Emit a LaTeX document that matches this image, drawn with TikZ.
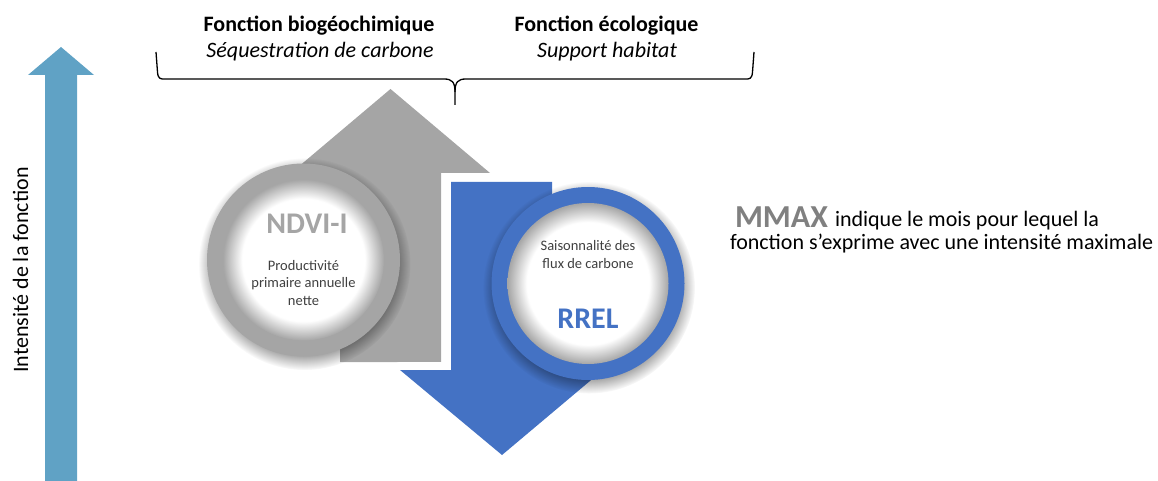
\documentclass[tikz,border=0pt]{standalone}
\usepackage{fontspec}
\setmainfont{Carlito}
\usepackage{tikz}
\usetikzlibrary{positioning}
\usetikzlibrary{calc}
\usetikzlibrary{fadings}

\definecolor{axisblue}{RGB}{96,162,197}
\definecolor{fngray}{RGB}{165,165,165}
\definecolor{fnblue}{RGB}{68,114,196}
\definecolor{textgray}{RGB}{64,64,64}
\definecolor{mmaxgray}{RGB}{128,128,128}

\pgfdeclareradialshading{holeshade}{\pgfpointorigin}{color(0bp)=(white); color(19bp)=(white); color(25bp)=(black!35); color(50bp)=(black!35)}

\begin{document}
\begin{tikzpicture}[x=1pt, y=-1pt, every node/.style={inner sep=0pt, outer sep=0pt},
  ringdisc/.style={circle, minimum size=193pt, fill=#1},
  holedisc/.style={circle, minimum size=161pt, shade, shading=holeshade},
  ringshadow/.style={black, fill opacity=0.5, path fading=circle with fuzzy edge 20 percent},
  headline/.style={anchor=base, font=\fontsize{22}{26}\selectfont\bfseries},
  subline/.style={anchor=base, font=\fontsize{22}{26}\selectfont\itshape},
  bodytext/.style={anchor=base west, font=\fontsize{22}{26}\selectfont},
  circtext/.style={align=center, text=textgray, font=\fontsize{14.5}{17.5}\selectfont},
  circtitle/.style={anchor=base, font=\fontsize{30}{36}\selectfont\bfseries}]

  \useasboundingbox (0,0) rectangle (1158,481);

  % intensity axis
  \fill[axisblue] (45,481) -- (45,75) -- (28,75) -- (61,47) -- (94,75) -- (77,75) -- (77,481) -- cycle;
  \node[bodytext, anchor=base, rotate=90] (axislabel) at (28,270) {Intensité de la fonction};

  % the two functions
  \node[headline] (biotitle) at (319,31.5) {Fonction biogéochimique};
  \node[subline] (biosub) at (320,58) {Séquestration de carbone};
  \node[headline] (ecotitle) at (606.5,31.5) {Fonction écologique};
  \node[subline] (ecosub) at (607,58) {Support habitat};

  \coordinate (braceL) at (156,52);
  \coordinate (braceR) at (754,52);
  \coordinate (braceMid) at (455,92);
  \coordinate (braceTip) at (455,105);
  \draw[line width=1.3pt] (braceL) -- ++(1.5,20) .. controls +(0.5,7) and +(-4,0) .. ++(7,7)
    -- (444,79) .. controls (452,79) and (455,82) .. (braceMid) -- (braceTip);
  \draw[line width=1.3pt] (braceR) -- ++(-1.5,20) .. controls +(-0.5,7) and +(4,0) .. ++(-7,7)
    -- (466,79) .. controls (458,79) and (455,82) .. (braceMid);

  % gray arrow up, blue arrow down
  \fill[fngray] (340,362) -- (340,173) -- (291,173) -- (390.5,89) -- (490,173) -- (441,173) -- (441,362) -- cycle;
  \fill[fnblue, preaction={draw=white, line width=16pt, line join=round}]
    (451,182) -- (552,182) -- (552,370) -- (603,370) -- (502,455) -- (400,370) -- (451,370) -- cycle;

  % NDVI-I circle
  \coordinate (ndvipos) at (303.5,260);
  \fill[ringshadow] ($(ndvipos)+(1,4)$) circle (106);
  \node[ringdisc=fngray] (ndvi) at (ndvipos) {};
  \node[holedisc] (ndvihole) at (ndvi) {};
  \node[circtitle, text=fngray] (ndvititle) at (307,233) {NDVI-I};
  \node[circtext] (ndvitext) at (303.5,283) {Productivité\\primaire annuelle\\nette};

  % RREL circle
  \coordinate (rrelpos) at (588,283.5);
  \fill[ringshadow] ($(rrelpos)+(1,4)$) circle (106);
  \node[ringdisc=fnblue] (rrel) at (rrelpos) {};
  \node[holedisc] (rrelhole) at (rrel) {};
  \node[circtext] (rreltext) at (588,254.5) {Saisonnalité des\\flux de carbone};
  \node[circtitle, text=fnblue] (rreltitle) at (588,328) {RREL};

  % MMAX legend
  \node[bodytext, font=\fontsize{32}{36}\selectfont\bfseries, text=mmaxgray] (mmax) at (735,227) {MMAX};
  \node[bodytext] (mmaxline1) at (835,226) {indique le mois pour lequel la};
  \node[bodytext] (mmaxline2) at (730,249) {fonction s’exprime avec une intensité maximale};
\end{tikzpicture}
\end{document}
